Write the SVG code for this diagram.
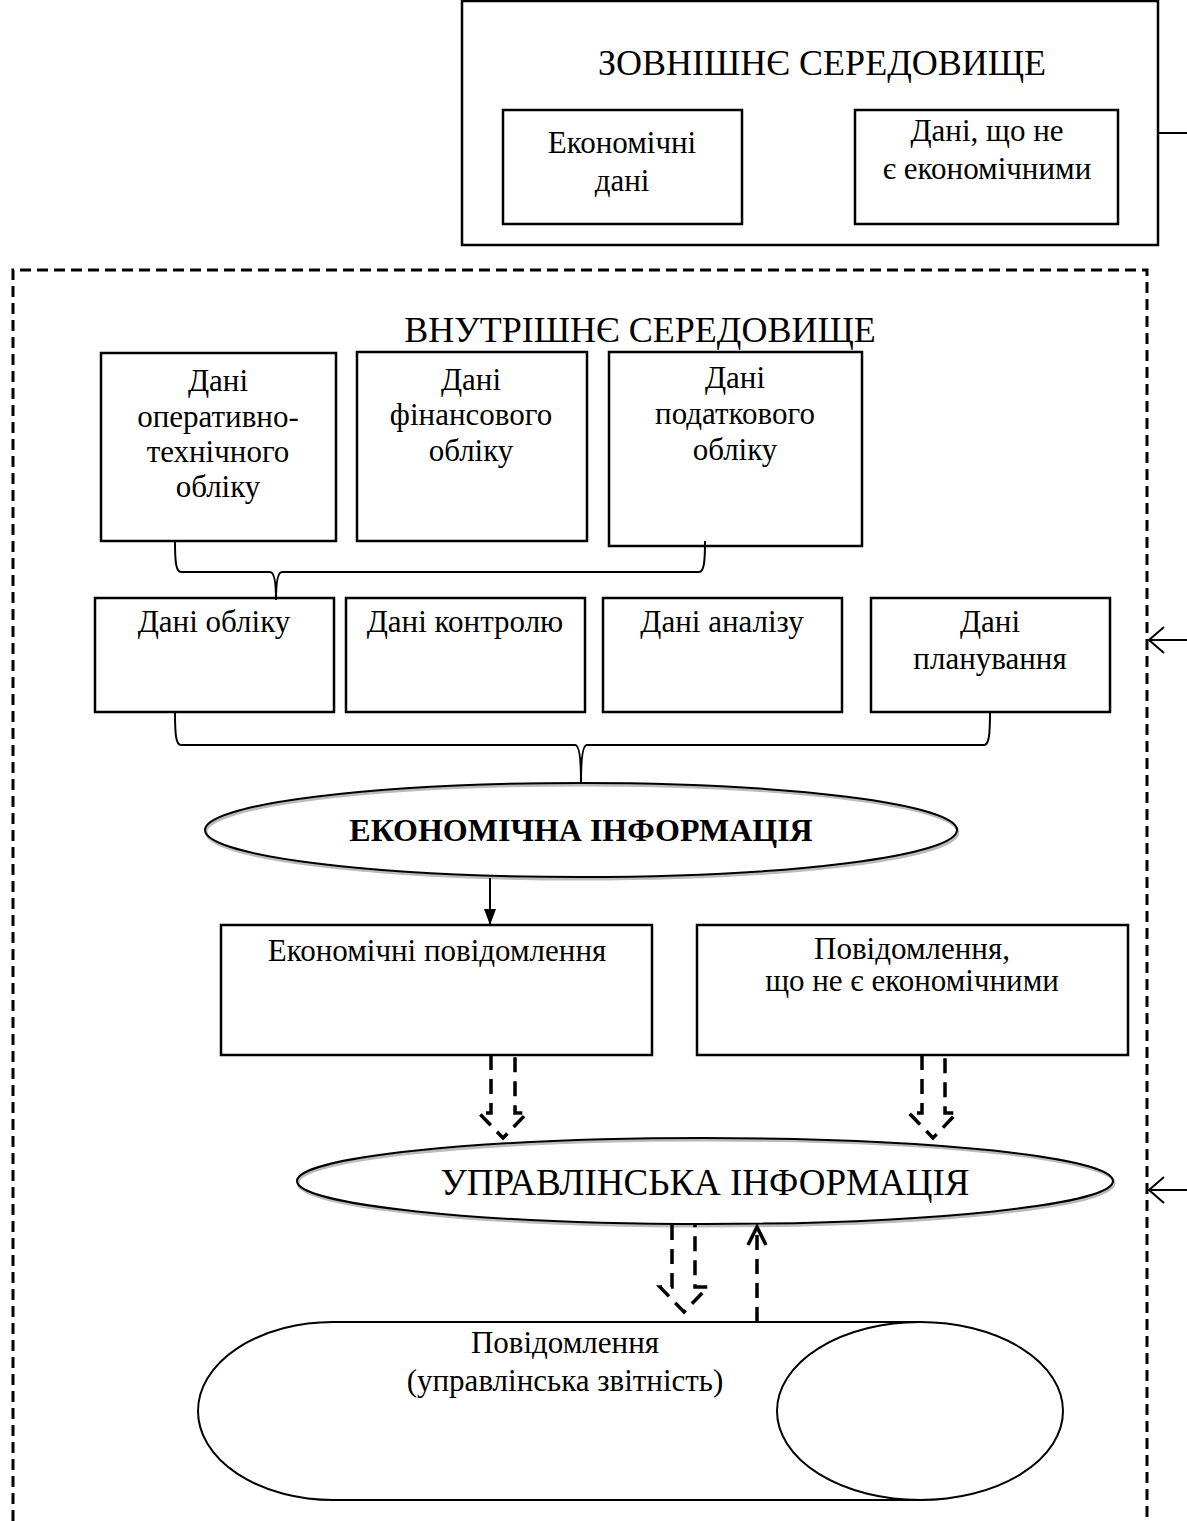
<svg xmlns="http://www.w3.org/2000/svg" width="1187" height="1521" viewBox="0 0 1187 1521">
<style>
.box{fill:#fff;stroke:#000;stroke-width:2.5}
.t{font-family:"Liberation Serif","Times New Roman",serif;font-size:31px;fill:#000;text-anchor:middle}
.big{font-size:36px}
.ln{fill:none;stroke:#000;stroke-width:2}
.dash{fill:none;stroke:#000;stroke-width:3;stroke-dasharray:11 6}
.bdash{fill:none;stroke:#000;stroke-width:3.5;stroke-dasharray:15 9}
.shadow{fill:none;stroke:#bbb;stroke-width:3}
</style>
<defs>
<marker id="fa" markerWidth="16" markerHeight="12" refX="16" refY="6" orient="auto" markerUnits="userSpaceOnUse" viewBox="0 0 16 12"><path d="M0,0 L16,6 L0,12 Z" fill="#000"/></marker>
</defs>
<g id="external">
<rect class="box" x="462" y="1" width="696" height="244"/>
<text class="t big" x="822" y="75">ЗОВНІШНЄ СЕРЕДОВИЩЕ</text>
</g>
<g id="econ-data">
<rect class="box" x="503" y="110" width="239" height="114"/>
<text class="t" x="622" y="153">Економічні</text>
<text class="t" x="622" y="191">дані</text>
</g>
<g id="non-econ-data">
<rect class="box" x="855" y="110" width="263" height="114"/>
<text class="t" x="987" y="141">Дані, що не</text>
<text class="t" x="987" y="179">є економічними</text>
</g>
<g id="internal">
<path class="dash" d="M13,1521 V270 H1147 V1521"/>
<text class="t big" x="640" y="342">ВНУТРІШНЄ СЕРЕДОВИЩЕ</text>
</g>
<g id="op-tech">
<rect class="box" x="101" y="353" width="235" height="188"/>
<text class="t" x="218" y="391">Дані</text>
<text class="t" x="218" y="427">оперативно-</text>
<text class="t" x="218" y="462">технічного</text>
<text class="t" x="218" y="497">обліку</text>
</g>
<g id="fin">
<rect class="box" x="357" y="352" width="230" height="189"/>
<text class="t" x="471" y="390">Дані</text>
<text class="t" x="471" y="425">фінансового</text>
<text class="t" x="471" y="461">обліку</text>
</g>
<g id="tax">
<rect class="box" x="609" y="352" width="253" height="194"/>
<text class="t" x="735" y="388">Дані</text>
<text class="t" x="735" y="424">податкового</text>
<text class="t" x="735" y="460">обліку</text>
</g>
<g id="acc">
<rect class="box" x="95" y="598" width="239" height="114"/>
<text class="t" x="214" y="632">Дані обліку</text>
</g>
<g id="ctrl">
<rect class="box" x="346" y="598" width="239" height="114"/>
<text class="t" x="465" y="632">Дані контролю</text>
</g>
<g id="anal">
<rect class="box" x="603" y="598" width="239" height="114"/>
<text class="t" x="722" y="632">Дані аналізу</text>
</g>
<g id="plan">
<rect class="box" x="871" y="598" width="239" height="114"/>
<text class="t" x="990" y="632">Дані</text>
<text class="t" x="990" y="669">планування</text>
</g>
<g id="econ-info">
<ellipse class="shadow" cx="582" cy="832" rx="376" ry="47"/>
<ellipse class="ln" cx="581" cy="830" rx="376" ry="47"/>
<text class="t" x="581" y="841" style="font-weight:bold;font-size:32px">ЕКОНОМІЧНА ІНФОРМАЦІЯ</text>
</g>
<g id="econ-msg">
<rect class="box" x="221" y="925" width="431" height="130"/>
<text class="t" x="437" y="961">Економічні повідомлення</text>
</g>
<g id="non-econ-msg">
<rect class="box" x="697" y="925" width="431" height="130"/>
<text class="t" x="912" y="959">Повідомлення,</text>
<text class="t" x="912" y="991">що не є економічними</text>
</g>
<g id="mgmt-info">
<ellipse class="shadow" cx="706" cy="1183" rx="408" ry="43"/>
<ellipse class="ln" cx="705" cy="1181" rx="408" ry="43"/>
<text class="t" x="705" y="1195" style="font-size:37px">УПРАВЛІНСЬКА ІНФОРМАЦІЯ</text>
</g>
<g id="reports">
<path class="ln" d="M333,1322 H920 M333,1500 H920 M333,1322 A135,89 0 0 0 333,1500"/>
<ellipse class="ln" cx="920" cy="1411" rx="143" ry="89"/>
<text class="t" x="565" y="1353">Повідомлення</text>
<text class="t" x="565" y="1391">(управлінська звітність)</text>
</g>
<g id="connectors">
<path class="ln" d="M1158,133 H1187"/>
<path class="ln" d="M1187,640 H1150 M1164,627 L1149,640 L1164,653"/>
<path class="ln" d="M1187,1190 H1150 M1164,1177 L1149,1190 L1164,1203"/>
<path class="ln" d="M175,541 C175,562 176,572 181,572 L270,572 C274,572 276,582 276,600 C276,582 278,572 282,572 L699,572 C704,572 705,562 705,541"/>
<path class="ln" d="M175,712 C175,735 176,745 181,745 L575,745 C579,745 581,757 581,782 C581,757 583,745 587,745 L984,745 C989,745 990,735 990,712"/>
<line class="ln" x1="490" y1="878" x2="490" y2="925" marker-end="url(#fa)"/>
<path class="bdash" d="M491,1055 V1113 H479 L503,1138 L527,1113 H515 V1055"/>
<path class="bdash" d="M922,1055 V1113 H909 L933,1138 L957,1113 H945 V1055"/>
<path class="bdash" d="M672,1225 V1287 H660 L684,1312 L708,1287 H695 V1225"/>
<path class="bdash" d="M757,1322 V1228"/>
<path class="ln" style="stroke-width:3.5" d="M748,1245 L757,1227 L766,1245"/>
</g>
</svg>
